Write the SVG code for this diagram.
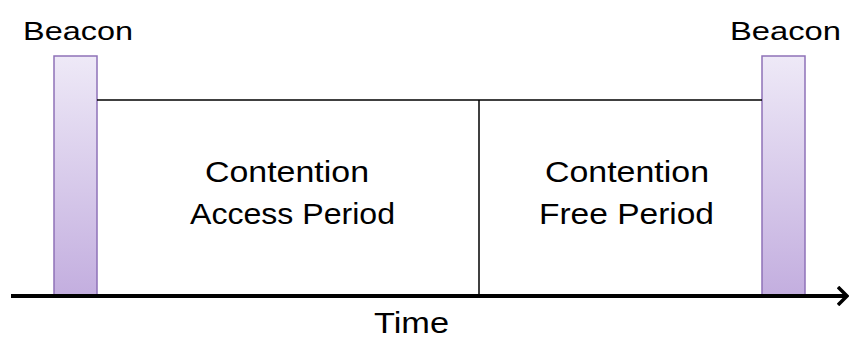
<svg xmlns="http://www.w3.org/2000/svg" width="849" height="338" viewBox="0 0 849 338">
  <defs>
    <linearGradient id="beaconGrad" x1="0" y1="0" x2="0" y2="1">
      <stop offset="0" stop-color="#EEE9F7"/>
      <stop offset="1" stop-color="#C3AEDF"/>
    </linearGradient>
    <marker id="arrow" markerWidth="12" markerHeight="20" refX="10" refY="10" orient="auto" markerUnits="userSpaceOnUse">
      <path d="M1,1 L10,10 L1,19" fill="none" stroke="#000" stroke-width="3.5"/>
    </marker>
  </defs>
  <style>
    .beacon { fill: url(#beaconGrad); stroke: #8E72B8; stroke-width: 1.5; }
    .line { stroke: #000; stroke-width: 1.5; fill: none; }
    .axis { stroke: #000; stroke-width: 4; fill: none; }
    .lbl { font-family: "Liberation Sans", Arial, sans-serif; fill: #000; }
  </style>
  <rect width="849" height="338" fill="#fff"/>
  <g id="beacon-left">
    <rect class="beacon" x="54" y="56" width="43" height="240"/>
    <text class="lbl" x="23" y="40" font-size="25" textLength="110" lengthAdjust="spacingAndGlyphs">Beacon</text>
  </g>
  <g id="beacon-right">
    <rect class="beacon" x="762" y="56" width="43" height="240"/>
    <text class="lbl" x="730" y="40" font-size="25" textLength="111" lengthAdjust="spacingAndGlyphs">Beacon</text>
  </g>
  <g id="cap">
    <text class="lbl" x="205" y="182" font-size="29" textLength="164" lengthAdjust="spacingAndGlyphs">Contention</text>
    <text class="lbl" x="190" y="224" font-size="29" textLength="205" lengthAdjust="spacingAndGlyphs">Access Period</text>
  </g>
  <g id="cfp">
    <text class="lbl" x="545" y="182" font-size="29" textLength="164" lengthAdjust="spacingAndGlyphs">Contention</text>
    <text class="lbl" x="539" y="224" font-size="29" textLength="175" lengthAdjust="spacingAndGlyphs">Free Period</text>
  </g>
  <g id="connectors">
    <line class="line" x1="97" y1="100" x2="762" y2="100"/>
    <line class="line" x1="479" y1="100" x2="479" y2="296"/>
    <line class="axis" x1="11" y1="296" x2="847" y2="296" marker-end="url(#arrow)"/>
  </g>
  <g id="time">
    <text class="lbl" x="374" y="333" font-size="29" textLength="75" lengthAdjust="spacingAndGlyphs">Time</text>
  </g>
</svg>
